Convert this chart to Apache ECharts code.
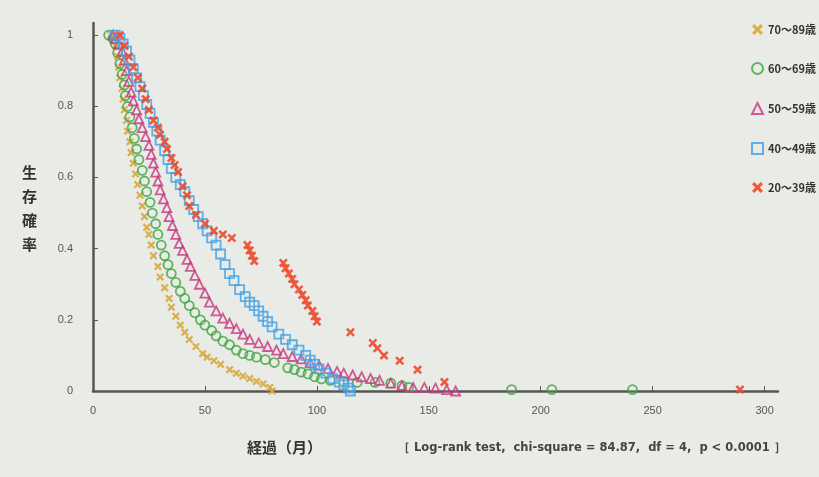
<!DOCTYPE html>
<html>
  <head>
    <meta charset="utf-8" />
    <title>生存確率</title>
    <script src="https://cdn.jsdelivr.net/npm/echarts/dist/echarts.min.js"></script>
    <style>
      body { margin: 0; background: #e9ebe6; }
    </style>
  </head>
  <body>
    <div id="main" style="width: 819px; height: 477px;"></div>
    <script type="text/javascript">
      var myChart = echarts.init(document.getElementById('main'));

      var xTicks = [0, 50, 100, 150, 200, 250, 300];
      var yTicks = [0, 0.2, 0.4, 0.6, 0.8, 1];
      var groupNames = ['70～89歳', '60～69歳', '50～59歳', '40～49歳', '20～39歳'];

      // [月, 生存確率]
      var age70 = [[8,1],[9,0.99],[10,0.97],[11,0.94],[11.5,0.91],[12,0.88],[13,0.85],[13.5,0.82],[14,0.79],[15,0.76],
        [15.5,0.73],[16.5,0.70],[17,0.67],[18,0.64],[19,0.61],[20,0.58],[21,0.55],[22,0.52],[23,0.49],[24,0.46],
        [25,0.44],[26,0.41],[27,0.38],[29,0.35],[30,0.32],[32,0.29],[34,0.26],[35,0.235],[37,0.21],[39,0.185],
        [41,0.165],[43,0.145],[46,0.125],[49,0.105],[51,0.095],[54,0.085],[57,0.075],[61,0.06],[64,0.05],[67,0.042],
        [70,0.035],[73,0.027],[76,0.02],[79,0.01],[80,0]];
      var age60 = [[7,1],[9,0.99],[10,0.975],[11,0.95],[12,0.92],[13,0.89],[14,0.86],[14.5,0.83],[15.5,0.80],[16.5,0.77],
        [17.5,0.74],[18.5,0.71],[19.5,0.68],[20.5,0.65],[22,0.62],[23,0.59],[24,0.56],[25.5,0.53],[26.5,0.50],[28,0.47],
        [29,0.44],[30.5,0.41],[32,0.38],[33.5,0.355],[35,0.33],[37,0.305],[39,0.28],[41,0.26],[43,0.24],[45.5,0.22],
        [48,0.20],[50,0.185],[53,0.17],[55,0.155],[58,0.14],[61,0.13],[64,0.115],[67,0.105],[70,0.1],[73,0.095],
        [77,0.088],[81,0.08],[87,0.065],[90,0.06],[93,0.053],[96,0.048],[99,0.04],[102,0.034],[106,0.03],[112,0.027],
        [118,0.024],[126,0.024],[133,0.022],[138,0.015],[141,0.01],[187,0.004],[205,0.004],[241,0.004]];
      var age50 = [[9,1],[10,0.99],[11.5,0.975],[13,0.955],[14,0.93],[15,0.9],[16,0.87],[17,0.84],[18,0.815],[19.5,0.79],
        [20.5,0.765],[22,0.74],[23.5,0.715],[25,0.69],[26,0.665],[27,0.64],[28,0.615],[29,0.59],[30,0.565],[31.5,0.54],
        [33,0.515],[34,0.49],[35.5,0.465],[37,0.44],[38.5,0.415],[40,0.395],[42,0.37],[43.5,0.35],[45.5,0.325],[47.5,0.30],
        [50,0.275],[52,0.25],[55,0.225],[58,0.205],[61,0.19],[64,0.175],[67,0.16],[70,0.145],[74,0.135],[78,0.125],
        [82,0.115],[85,0.105],[89,0.097],[93,0.09],[97,0.08],[101,0.072],[105,0.063],[109,0.055],[112,0.05],[116,0.045],
        [120,0.04],[124,0.035],[128,0.03],[133,0.022],[138,0.015],[143,0.01],[148,0.01],[153,0.008],[158,0.004],[162,0]];
      var age40 = [[10,1],[12,0.99],[13.5,0.975],[15,0.955],[16.5,0.93],[18,0.905],[19.5,0.88],[21,0.855],[22.5,0.83],[24,0.805],
        [25.5,0.78],[27,0.755],[28.5,0.73],[30,0.705],[32,0.675],[33.5,0.65],[35,0.625],[37,0.6],[39,0.58],[41,0.56],
        [43,0.535],[45,0.51],[47,0.49],[49,0.47],[51,0.45],[53,0.43],[55,0.41],[57,0.385],[59,0.355],[61,0.33],
        [63,0.31],[65.5,0.285],[68,0.265],[70,0.25],[72,0.24],[74,0.225],[76,0.21],[78,0.195],[80,0.18],[83,0.16],
        [86,0.145],[89,0.13],[92,0.115],[95,0.1],[97,0.087],[99,0.075],[101,0.062],[104,0.05],[107,0.035],[110,0.025],
        [112,0.017],[114,0.008],[115,0]];
      var age20 = [[12,1],[14,0.97],[16,0.94],[18,0.91],[20,0.88],[22,0.85],[23.5,0.82],[25,0.79],[27,0.76],[29,0.74],
        [30,0.72],[32,0.7],[33,0.68],[35,0.655],[36.5,0.635],[38,0.615],[40,0.575],[42,0.55],[43,0.52],[46,0.495],
        [50,0.47],[54,0.45],[58,0.44],[62,0.43],[69,0.41],[70,0.395],[71,0.38],[72,0.365],[85,0.36],[86,0.345],
        [87.5,0.33],[89,0.315],[90,0.30],[92,0.285],[93.5,0.27],[95,0.255],[96,0.24],[98,0.225],[99,0.21],[100,0.195],
        [115,0.165],[125,0.135],[127,0.12],[130,0.1],[137,0.085],[145,0.06],[157,0.025],[289,0.004]];

      var crossPath = 'path://M0,2 L2,0 L5,3 L8,0 L10,2 L7,5 L10,8 L8,10 L5,7 L2,10 L0,8 L3,5 Z';

      function makeSeries(name, data, symbol, color, size, filled) {
        return {
          name: name,
          type: 'scatter',
          data: data,
          symbol: symbol,
          symbolSize: size,
          itemStyle: filled
            ? { color: color, opacity: 0.9 }
            : { color: 'rgba(233,235,230,0.15)', borderColor: color, borderWidth: 1.8 },
          z: 3
        };
      }

      var option = {
        backgroundColor: '#e9ebe6',
        animation: false,
        grid: { left: 93, right: 41, top: 23, bottom: 86 },
        legend: {
          orient: 'vertical',
          left: 751,
          top: 24,
          padding: 0,
          itemGap: 27,
          itemWidth: 11,
          itemHeight: 11,
          textStyle: { fontSize: 11, color: '#333', fontWeight: 'bold', fontFamily: 'Noto Sans CJK JP' },
          data: groupNames
        },
        xAxis: {
          type: 'value',
          min: 0,
          max: 306,
          interval: 50,
          splitLine: { show: false },
          axisLine: { lineStyle: { color: '#555', width: 2.5 } },
          axisTick: { inside: true, length: 5, lineStyle: { color: '#555' } },
          axisLabel: {
            color: '#555', fontSize: 11, margin: 14,
            showMaxLabel: false,
            formatter: function (v) { return xTicks.indexOf(v) >= 0 ? String(v) : ''; }
          }
        },
        yAxis: {
          type: 'value',
          min: 0,
          max: 1.034,
          interval: 0.2,
          splitLine: { show: false },
          axisLine: { show: true, lineStyle: { color: '#555', width: 2.5 } },
          axisTick: { inside: true, length: 5, lineStyle: { color: '#555' } },
          axisLabel: {
            color: '#555', fontSize: 11, margin: 20,
            showMaxLabel: false,
            formatter: function (v) {
              var r = Math.round(v * 10) / 10;
              return yTicks.indexOf(r) >= 0 ? String(r) : '';
            }
          }
        },
        series: [
          makeSeries(groupNames[0], age70, crossPath, '#d8a83e', 8, true),
          makeSeries(groupNames[1], age60, 'circle', '#3ca43c', 9, false),
          makeSeries(groupNames[2], age50, 'triangle', '#c8347e', 9, false),
          makeSeries(groupNames[3], age40, 'rect', '#3f9fe6', 9, false),
          makeSeries(groupNames[4], age20, crossPath, '#ec4a2c', 9, true)
        ],
        graphic: [
          {
            type: 'text', left: 22, top: 160,
            style: {
              text: '生\n存\n確\n率', fontSize: 15, fontWeight: 'bold', lineHeight: 24,
              fill: '#333', fontFamily: 'Noto Sans CJK JP'
            }
          },
          {
            type: 'text', left: 247, top: 440,
            style: {
              text: '経過（月）', fontSize: 15, fontWeight: 'bold',
              fill: '#333', fontFamily: 'Noto Sans CJK JP'
            }
          },
          {
            type: 'text', left: 398, top: 442,
            style: {
              text: '［ Log-rank test,  chi-square = 84.87,  df = 4,  p < 0.0001 ］', fontSize: 11.5,
              fontWeight: 'bold', fill: '#444', fontFamily: 'DejaVu Sans'
            }
          }
        ]
      };

      myChart.setOption(option);
    </script>
  </body>
</html>
